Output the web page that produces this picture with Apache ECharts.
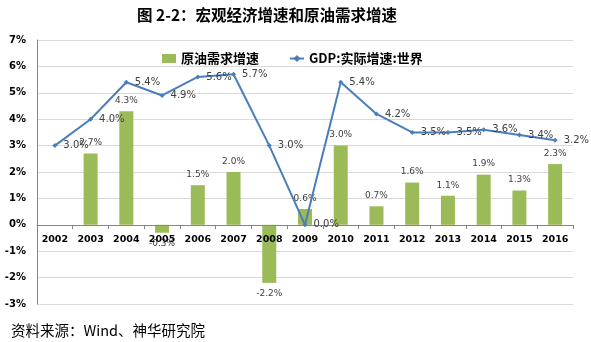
<!DOCTYPE html>
<html><head><meta charset="utf-8">
<script src="https://cdn.jsdelivr.net/npm/echarts@6/dist/echarts.min.js"></script>
<style>html,body{margin:0;padding:0;background:#fff}#c{width:591px;height:342px}</style>
</head><body><div id="c"></div>
<script>
const years = ['2002','2003','2004','2005','2006','2007','2008','2009','2010','2011','2012','2013','2014','2015','2016'];
const oilDemand = [null, 2.7, 4.3, -0.3, 1.5, 2.0, -2.2, 0.6, 3.0, 0.7, 1.6, 1.1, 1.9, 1.3, 2.3];
const gdpGrowth = [3.0, 4.0, 5.4, 4.9, 5.6, 5.7, 3.0, 0.0, 5.4, 4.2, 3.5, 3.5, 3.6, 3.4, 3.2];
const barName = '原油需求增速';
const lineName = 'GDP:实际增速:世界';
const titleText = '图 2-2：宏观经济增速和原油需求增速';
const sourceText = '资料来源：Wind、神华研究院';

const num = 'DejaVu Sans, Verdana, sans-serif';
const cjk = '"Noto Sans CJK SC", sans-serif';
const chart = echarts.init(document.getElementById('c'));
chart.setOption({
  animation: false,
  title: [
    {text: titleText, left: 262, top: 2, textAlign: 'center',
     textStyle: {fontFamily: cjk, fontSize: 15.5, fontWeight: 'bold', color: '#000'}},
    {text: sourceText, left: 6, top: 318,
     textStyle: {fontFamily: cjk, fontSize: 14.5, fontWeight: 'normal', color: '#000'}}
  ],
  grid: {left: 37, right: 18, top: 40, bottom: 38},
  legend: {
    left: 157, top: 47, itemGap: 30, itemWidth: 14, itemHeight: 9,
    textStyle: {fontFamily: cjk, fontSize: 13, fontWeight: 'bold', color: '#000'},
    data: [{name: barName, icon: 'rect'}, {name: lineName}]
  },
  xAxis: {
    type: 'category', data: years,
    offset: -79, z: 3,
    axisLine: {onZero: false, lineStyle: {color: '#868686'}},
    axisTick: {show: true, length: 4, lineStyle: {color: '#868686'}},
    axisLabel: {fontFamily: num, fontSize: 9.5, fontWeight: 'bold', color: '#000', margin: 10}
  },
  yAxis: {
    type: 'value', min: -3, max: 7, interval: 1,
    axisLine: {show: true, lineStyle: {color: '#868686'}},
    axisTick: {show: false},
    axisLabel: {fontFamily: num, fontSize: 10, fontWeight: 'bold', color: '#000', margin: 11, formatter: '{value}%'},
    splitLine: {lineStyle: {color: '#d9d9d9'}}
  },
  series: [
    {
      name: barName, type: 'bar', barWidth: 14,
      itemStyle: {color: '#9BBB59'},
      data: oilDemand.map(v => v === null ? null : {
        value: v,
        label: {position: v < 0 ? 'bottom' : 'top'}
      }),
      label: {show: true, fontFamily: num, fontSize: 9, color: '#404040', distance: 6,
        formatter: p => p.value.toFixed(1) + '%'}
    },
    {
      name: lineName, type: 'line', data: gdpGrowth, z: 4,
      symbol: 'diamond', symbolSize: 5,
      itemStyle: {color: '#4A7EBB'},
      lineStyle: {color: '#4A7EBB', width: 2},
      label: {show: true, position: 'right', distance: 6, fontFamily: num, fontSize: 10, color: '#404040',
        formatter: p => p.value.toFixed(1) + '%'}
    }
  ]
});
</script></body></html>
